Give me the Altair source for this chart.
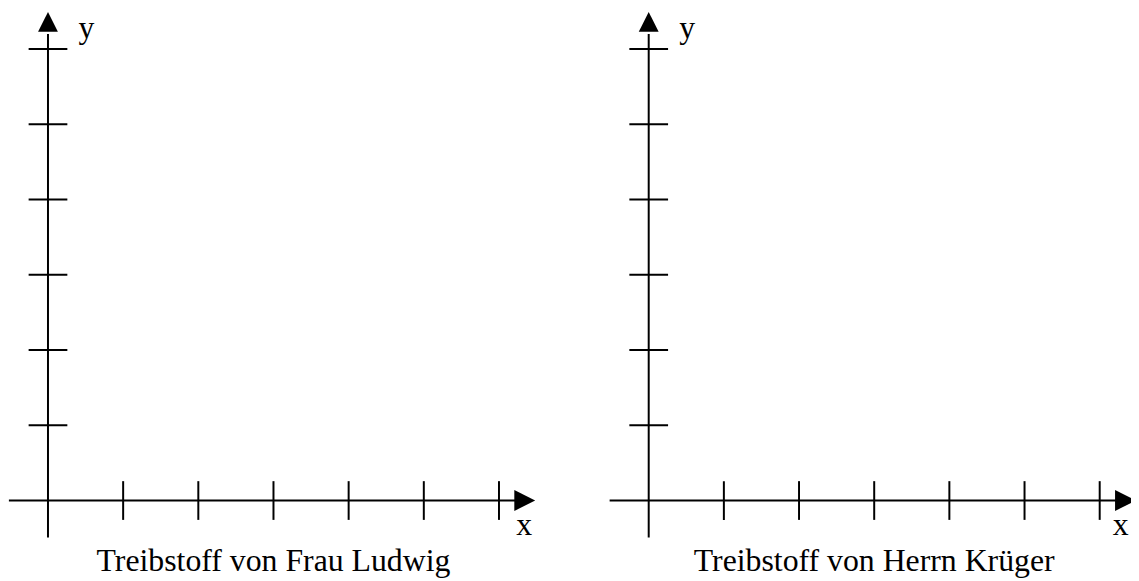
import altair as alt
import pandas as pd

# ---- data: an empty coordinate system drawn twice ----
captions = ["Treibstoff von Frau Ludwig", "Treibstoff von Herrn Krüger"]
x_ticks = [1, 2, 3, 4, 5, 6]
y_ticks = [1, 2, 3, 4, 5, 6]
x_name = "x"
y_name = "y"

# ---- layout constants (in tick-step units unless noted) ----
PX_X = 75.7          # pixels per unit, horizontal
PX_Y = 75.8          # pixels per unit, vertical
X_START = -0.532     # data value at left edge of each panel
Y_TOP = 6.517        # data value at top edge
HEIGHT = 573
PANEL_WIDTHS = [605, 526]
X_AXIS_SPAN = (-0.52, 6.25)
Y_AXIS_SPAN = (-0.49, 6.2)
X_ARROW_POS = 6.343
Y_ARROW_POS = 6.359
X_LABEL_POS = [(6.231, -0.462), (6.175, -0.462)]
Y_LABEL_POS = (0.405, 6.148)
CAPTION_POS = (3.0, -0.937)
FONT = "Liberation Serif"
FS = 32
TICK_LEN = 39


def panel(caption, width, x_label_pos):
    xs = alt.Scale(domain=[X_START, X_START + width / PX_X], nice=False, zero=False)
    ys = alt.Scale(domain=[Y_TOP - HEIGHT / PX_Y, Y_TOP], nice=False, zero=False)

    def X(f):
        return alt.X(f, type="quantitative", scale=xs, axis=None)

    def Y(f):
        return alt.Y(f, type="quantitative", scale=ys, axis=None)

    axes_df = pd.DataFrame({
        "x": [X_AXIS_SPAN[0], 0.0], "x2": [X_AXIS_SPAN[1], 0.0],
        "y": [0.0, Y_AXIS_SPAN[0]], "y2": [0.0, Y_AXIS_SPAN[1]],
    })
    lines = alt.Chart(axes_df).mark_rule(color="black", strokeWidth=2, clip=True).encode(
        x=X("x"), x2="x2", y=Y("y"), y2="y2")

    xt = pd.DataFrame({"x": x_ticks, "y": [0.0] * len(x_ticks)})
    xtick = alt.Chart(xt).mark_tick(orient="vertical", size=TICK_LEN, thickness=2,
                                    color="black", opacity=1, clip=True).encode(x=X("x"), y=Y("y"))
    yt = pd.DataFrame({"x": [0.0] * len(y_ticks), "y": y_ticks})
    ytick = alt.Chart(yt).mark_tick(orient="horizontal", size=TICK_LEN, thickness=2,
                                    color="black", opacity=1, clip=True).encode(x=X("x"), y=Y("y"))

    xa = pd.DataFrame({"x": [X_ARROW_POS], "y": [0.0]})
    xarrow = alt.Chart(xa).mark_point(shape="M-1,-1L1,0L-1,1Z", size=441, filled=True,
                                      color="black", opacity=1, strokeWidth=0, clip=True).encode(
        x=X("x"), y=Y("y"))
    ya = pd.DataFrame({"x": [0.0], "y": [Y_ARROW_POS]})
    yarrow = alt.Chart(ya).mark_point(shape="M-1,1L0,-1L1,1Z", size=400, filled=True,
                                      color="black", opacity=1, strokeWidth=0, clip=True).encode(
        x=X("x"), y=Y("y"))

    labels = pd.DataFrame({
        "x": [x_label_pos[0], Y_LABEL_POS[0]],
        "y": [x_label_pos[1], Y_LABEL_POS[1]],
        "t": [x_name, y_name],
    })
    text = alt.Chart(labels).mark_text(font=FONT, fontSize=FS, align="left", baseline="alphabetic",
                                       color="black").encode(
        x=X("x"), y=Y("y"), text="t:N")

    cap = pd.DataFrame({"x": [CAPTION_POS[0]], "y": [CAPTION_POS[1]], "t": [caption]})
    cap_text = alt.Chart(cap).mark_text(font=FONT, fontSize=FS, align="center", baseline="alphabetic",
                                        color="black", clip=True).encode(
        x=X("x"), y=Y("y"), text="t:N")

    return alt.layer(lines, xtick, ytick, xarrow, yarrow, text, cap_text).properties(
        width=width, height=HEIGHT)


chart = alt.hconcat(
    panel(captions[0], PANEL_WIDTHS[0], X_LABEL_POS[0]),
    panel(captions[1], PANEL_WIDTHS[1], X_LABEL_POS[1]),
    spacing=0, padding=0, background="white",
).configure_view(stroke=None)

chart.save("out.html", embed_options={"renderer": "svg", "actions": False})
